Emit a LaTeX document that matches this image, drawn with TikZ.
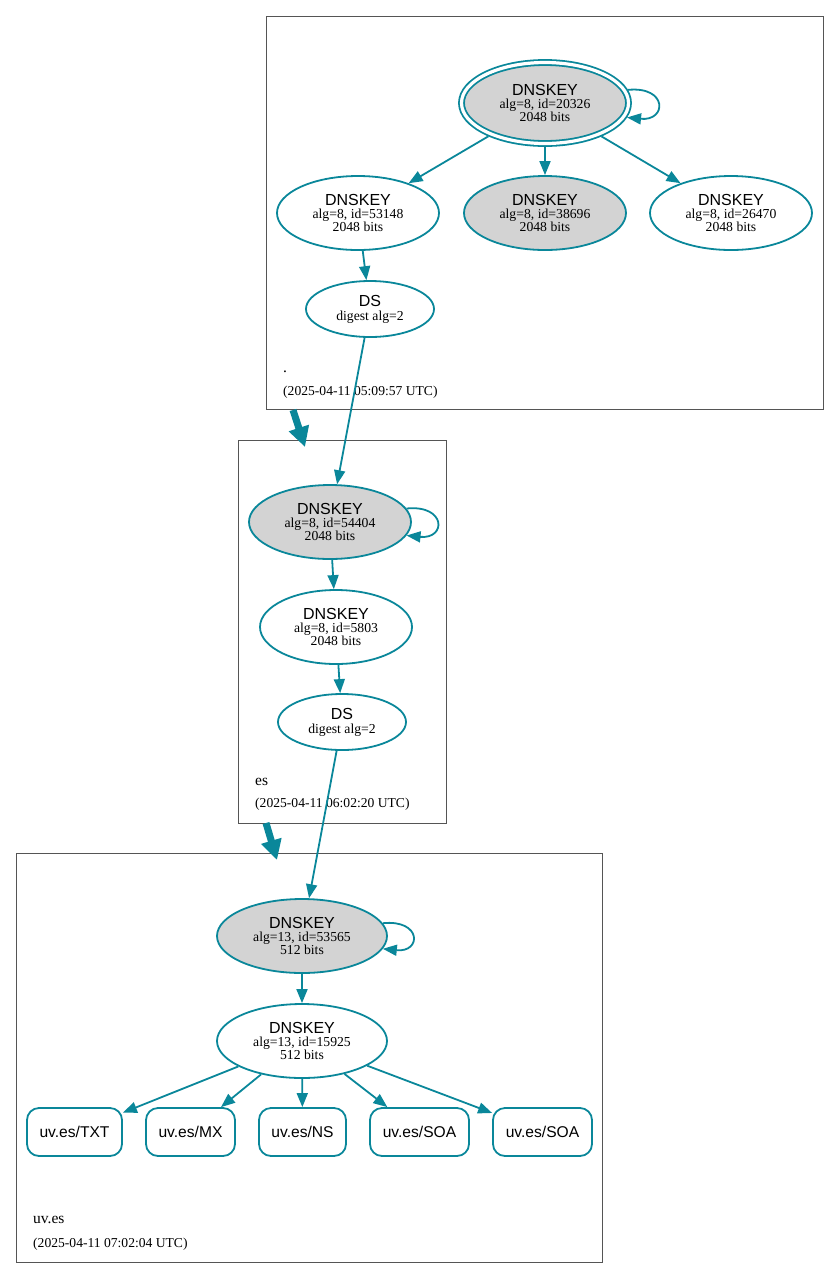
\documentclass[tikz,border=0pt]{standalone}
\usepackage{fontspec}
\setmainfont{Liberation Serif}
\setsansfont{Liberation Sans}
\usetikzlibrary{arrows.meta,shapes.geometric,calc}
\definecolor{sec}{HTML}{0A879A}
\definecolor{keyfill}{HTML}{D3D3D3}
\definecolor{zoneline}{HTML}{555555}
\newcommand{\ttlfont}{\sffamily\fontsize{16}{16}\selectfont}
\newcommand{\detfont}{\rmfamily\fontsize{13.7}{13.4}\selectfont}
\newcommand{\rrfont}{\sffamily\fontsize{15.6}{17}\selectfont}
\newcommand{\zonefont}{\rmfamily\fontsize{15.5}{17}\selectfont}
\newcommand{\stampfont}{\rmfamily\fontsize{13.6}{15}\selectfont}
\newcommand{\keytext}[3]{{\ttlfont #1}\\#2\\#3}
\begin{document}
\begin{tikzpicture}[x=1pt,y=-1pt,
  keynode/.style={ellipse, draw=sec, line width=1.8pt, inner sep=0pt,
    minimum width=162pt, minimum height=74pt, align=center, font=\detfont},
  signed/.style={fill=keyfill},
  dsnode/.style={ellipse, draw=sec, line width=1.8pt, inner sep=0pt,
    minimum width=128pt, minimum height=56pt, align=center, font=\detfont},
  rrnode/.style={rectangle, rounded corners=12pt, draw=sec, line width=1.8pt,
    minimum height=48pt, inner sep=0pt, font=\rrfont},
  zone/.style={draw=zoneline, line width=0.9pt, inner sep=0pt},
  edge/.style={draw=sec, line width=1.8pt, -{Triangle[length=14pt,width=11pt]}},
  deleg/.style={draw=sec, line width=7pt, -{Triangle[length=20pt,width=20pt]}},
  zlabel/.style={anchor=base west, inner sep=0pt, font=\zonefont},
  slabel/.style={anchor=base west, inner sep=0pt, font=\stampfont}]
\useasboundingbox (0,0) rectangle (840,1278);

% zone boxes
\node[zone, minimum width=557pt, minimum height=393pt] (zroot) at (544.5,212.5) {};
\node[zone, minimum width=208pt, minimum height=383pt] (zes) at (342,631.5) {};
\node[zone, minimum width=586pt, minimum height=409pt] (zuv) at (309,1057.5) {};

% root zone
\node[keynode, signed, double=white, double distance=3.2pt, outer sep=3.4pt,
  minimum width=167pt, minimum height=81pt] (r20326) at (545,103)
  {\keytext{DNSKEY}{alg=8, id=20326}{2048 bits}};
\node[keynode] (r53148) at (358,213) {\keytext{DNSKEY}{alg=8, id=53148}{2048 bits}};
\node[keynode, signed] (r38696) at (545,213) {\keytext{DNSKEY}{alg=8, id=38696}{2048 bits}};
\node[keynode] (r26470) at (731,213) {\keytext{DNSKEY}{alg=8, id=26470}{2048 bits}};
\node[dsnode] (rds) at (370,309) {{\ttlfont DS}\\[0.7pt]digest alg=2};
\node[zlabel] (lroot) at (283,372) {.};
\node[slabel] (sroot) at (283,395) {(2025-04-11 05:09:57 UTC)};

% es zone
\node[keynode, signed] (e54404) at (330,522) {\keytext{DNSKEY}{alg=8, id=54404}{2048 bits}};
\node[keynode, minimum width=152pt] (e5803) at (336,627) {\keytext{DNSKEY}{alg=8, id=5803}{2048 bits}};
\node[dsnode] (eds) at (342,722) {{\ttlfont DS}\\[0.7pt]digest alg=2};
\node[zlabel] (les) at (255,785) {es};
\node[slabel] (ses) at (255,807.5) {(2025-04-11 06:02:20 UTC)};

% uv.es zone
\node[keynode, signed, minimum width=170pt] (u53565) at (302,936) {\keytext{DNSKEY}{alg=13, id=53565}{512 bits}};
\node[keynode, minimum width=170pt] (u15925) at (302,1041) {\keytext{DNSKEY}{alg=13, id=15925}{512 bits}};
\node[rrnode, minimum width=95pt] (txt) at (74.5,1132) {uv.es/TXT};
\node[rrnode, minimum width=89pt] (mx) at (190.5,1132) {uv.es/MX};
\node[rrnode, minimum width=87pt] (ns) at (302.5,1132) {uv.es/NS};
\node[rrnode, minimum width=99pt] (soa1) at (419.5,1132) {uv.es/SOA};
\node[rrnode, minimum width=99pt] (soa2) at (542.5,1132) {uv.es/SOA};
\node[zlabel] (luv) at (33,1223.5) {uv.es};
\node[slabel] (suv) at (33,1247.5) {(2025-04-11 07:02:04 UTC)};

% delegation arrows
\coordinate (d1s) at (293,410);
\coordinate (d1e) at (305,447);
\coordinate (d2s) at (266,823);
\coordinate (d2e) at (277,860);
\draw[deleg] (d1s) -- (d1e);
\draw[deleg] (d2s) -- (d2e);

% edges root
\draw[edge] (r20326.9) .. controls ($(r20326.9)+(40,-4)$) and ($(r20326.-10)+(40,4)$) .. (r20326.-10);
\draw[edge] (r20326) -- (r53148);
\draw[edge] (r20326) -- (r38696);
\draw[edge] (r20326) -- (r26470);
\draw[edge] (r53148) -- (rds);
\draw[edge] (rds) -- (e54404);

% edges es
\draw[edge] (e54404.10) .. controls ($(e54404.10)+(40,-4)$) and ($(e54404.-10)+(40,4)$) .. (e54404.-10);
\draw[edge] (e54404) -- (e5803);
\draw[edge] (e5803) -- (eds);
\draw[edge] (eds) -- (u53565);

% edges uv.es
\draw[edge] (u53565.9) .. controls ($(u53565.9)+(39,-4)$) and ($(u53565.-9)+(39,4)$) .. (u53565.-9);
\draw[edge] (u53565) -- (u15925);
\draw[edge] (u15925) -- (txt);
\draw[edge] (u15925) -- (mx);
\draw[edge] (u15925) -- (ns);
\draw[edge] (u15925) -- (soa1);
\draw[edge] (u15925) -- (soa2);
\end{tikzpicture}
\end{document}
